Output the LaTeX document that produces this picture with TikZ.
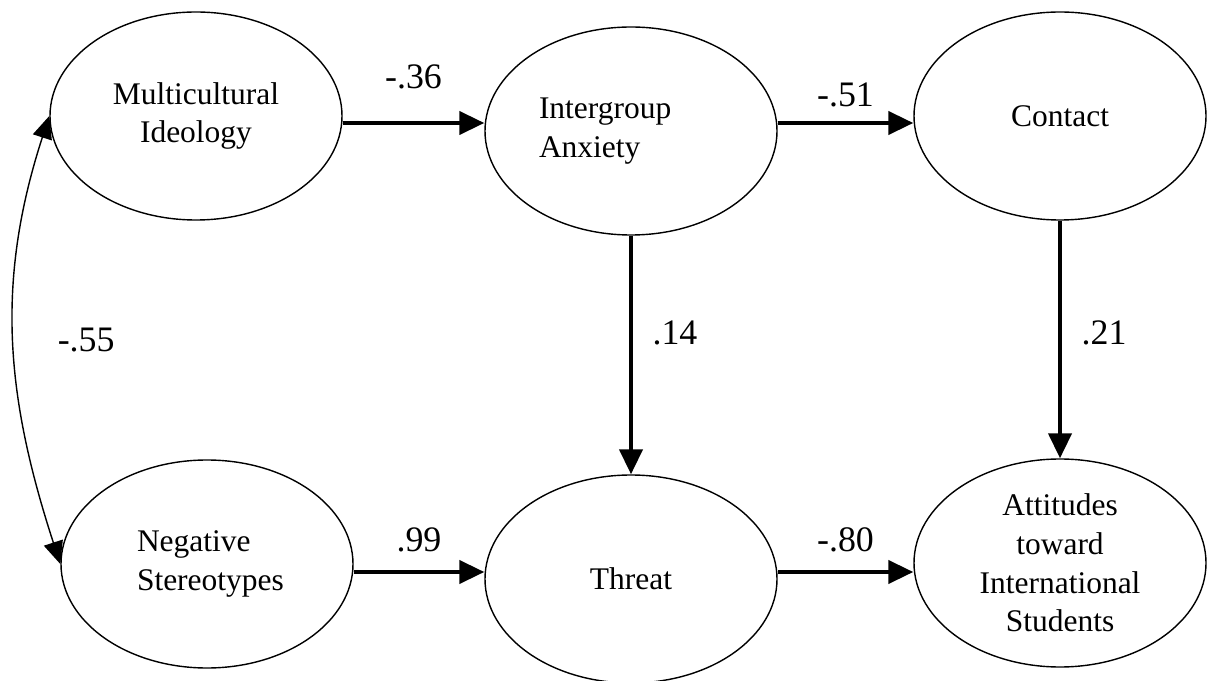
\documentclass[tikz,border=0pt]{standalone}
\usepackage{fontspec}
\setmainfont{Liberation Serif}
\usepackage{tikz}
\usetikzlibrary{shapes.geometric,arrows.meta}

\begin{document}
\begin{tikzpicture} [latent/.style={draw,ellipse,line width=1pt,minimum width=7.3cm,minimum height=5.2cm,inner sep=0pt,font=\fontsize{22.4}{27.4}\selectfont},
			path/.style={line width=2.9pt,-{Triangle[length=17.8pt,width=16.4pt]}},
			cov/.style={line width=1pt,{Triangle[length=16pt,width=14pt]}-{Triangle[length=16pt,width=14pt]}},
			coef/.style={font=\fontsize{25.5}{30}\selectfont}]
			\useasboundingbox (0,0) rectangle (30.175,17);
			
			% heights of the horizontal paths
			\coordinate (upper) at (0,13.925);
			\coordinate (lower) at (0,2.7);
			
			\node[latent,align=center] (ideol) at (4.9,14.1) {Multicultural\\Ideology};
			\node[latent,align=left,text width=4.6cm] (anx) at (15.775,13.725) {Intergroup\\Anxiety};
			\node[latent,align=center] (cont) at (26.5,14.1) {Contact};
			
			\node[latent,align=left,text width=3.5cm] (stereo) at (5.175,2.9) {Negative\\Stereotypes};
			\node[latent,align=center] (threat) at (15.775,2.525) {Threat};
			\node[latent,align=center] (attit) at (26.5,2.925) {Attitudes\\toward\\International\\Students};
			
			\draw[path] (ideol.east |- upper) -- node[coef,midway,yshift=1.15cm] {-.36} (anx.west |- upper);
			\draw[path] (anx.east |- upper) -- node[coef,midway,yshift=0.7cm] {-.51} (cont.west |- upper);
			\draw[path] (anx) -- node[coef,midway,xshift=1.1cm,yshift=0.55cm] {.14} (threat);
			\draw[path] (cont) -- node[coef,midway,xshift=1.1cm,yshift=0.16cm] {.21} (attit);
			\draw[path] (stereo.east |- lower) -- node[coef,midway,yshift=0.8cm] {.99} (threat.west |- lower);
			\draw[path] (threat.east |- lower) -- node[coef,midway,yshift=0.8cm] {-.80} (attit.west |- lower);
			
			\draw[cov] (ideol.west) to[out=252,in=108] node[coef,midway,xshift=1.8cm] {-.55} (stereo.west);
			\end{tikzpicture}
\end{document}
